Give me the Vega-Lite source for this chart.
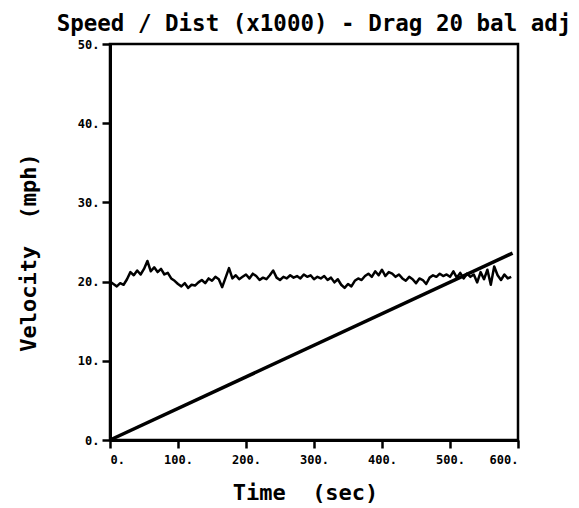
{
  "$schema": "https://vega.github.io/schema/vega-lite/v6.json",
  "autosize": "none",
  "width": 408,
  "height": 396,
  "padding": {"left": 110, "top": 44, "right": 61, "bottom": 68},
  "background": "white",
  "title": {
    "text": "Speed / Dist (x1000) - Drag 20 bal adj",
    "font": "DejaVu Sans Mono",
    "fontWeight": "bold",
    "fontSize": 22.5,
    "color": "black",
    "anchor": "middle",
    "offset": 3
  },
  "config": {
    "view": {"stroke": "black", "strokeWidth": 2.5},
    "axis": {
      "domainColor": "black",
      "domainWidth": 3,
      "tickColor": "black",
      "tickWidth": 2.5,
      "tickSize": 8,
      "grid": false,
      "labelFont": "DejaVu Sans Mono",
      "labelFontWeight": "bold",
      "labelFontSize": 12,
      "labelColor": "black",
      "titleFont": "DejaVu Sans Mono",
      "titleFontWeight": "bold",
      "titleFontSize": 22,
      "titleColor": "black"
    }
  },
  "datasets": {
    "speed": [
      {"t": 0, "v": 20.0}, {"t": 5, "v": 19.7}, {"t": 10, "v": 19.4}, {"t": 15, "v": 19.8},
      {"t": 20, "v": 19.6}, {"t": 25, "v": 20.3}, {"t": 30, "v": 21.2}, {"t": 35, "v": 20.8},
      {"t": 40, "v": 21.4}, {"t": 45, "v": 20.9}, {"t": 50, "v": 21.6}, {"t": 55, "v": 22.6},
      {"t": 60, "v": 21.3}, {"t": 65, "v": 21.8}, {"t": 70, "v": 21.2}, {"t": 75, "v": 21.6},
      {"t": 80, "v": 20.9}, {"t": 85, "v": 21.1}, {"t": 90, "v": 20.4}, {"t": 95, "v": 20.1},
      {"t": 100, "v": 19.7}, {"t": 105, "v": 19.4}, {"t": 110, "v": 19.8}, {"t": 115, "v": 19.2},
      {"t": 120, "v": 19.6}, {"t": 125, "v": 19.5}, {"t": 130, "v": 19.9}, {"t": 135, "v": 20.2},
      {"t": 140, "v": 19.8}, {"t": 145, "v": 20.4}, {"t": 150, "v": 20.1}, {"t": 155, "v": 20.6},
      {"t": 160, "v": 20.3}, {"t": 165, "v": 19.3}, {"t": 170, "v": 20.5}, {"t": 175, "v": 21.7},
      {"t": 180, "v": 20.4}, {"t": 185, "v": 20.8}, {"t": 190, "v": 20.3}, {"t": 195, "v": 20.6},
      {"t": 200, "v": 20.9}, {"t": 205, "v": 20.4}, {"t": 210, "v": 21.0}, {"t": 215, "v": 20.7},
      {"t": 220, "v": 20.2}, {"t": 225, "v": 20.5}, {"t": 230, "v": 20.3}, {"t": 235, "v": 20.8},
      {"t": 240, "v": 21.4}, {"t": 245, "v": 20.5}, {"t": 250, "v": 20.2}, {"t": 255, "v": 20.6},
      {"t": 260, "v": 20.4}, {"t": 265, "v": 20.8}, {"t": 270, "v": 20.5}, {"t": 275, "v": 20.7},
      {"t": 280, "v": 20.4}, {"t": 285, "v": 20.9}, {"t": 290, "v": 20.6}, {"t": 295, "v": 20.8},
      {"t": 300, "v": 20.3}, {"t": 305, "v": 20.6}, {"t": 310, "v": 20.4}, {"t": 315, "v": 20.7},
      {"t": 320, "v": 20.2}, {"t": 325, "v": 20.5}, {"t": 330, "v": 19.9}, {"t": 335, "v": 20.3},
      {"t": 340, "v": 19.6}, {"t": 345, "v": 19.2}, {"t": 350, "v": 19.7}, {"t": 355, "v": 19.4},
      {"t": 360, "v": 20.1}, {"t": 365, "v": 20.4}, {"t": 370, "v": 20.2}, {"t": 375, "v": 20.7},
      {"t": 380, "v": 21.0}, {"t": 385, "v": 20.6}, {"t": 390, "v": 21.3}, {"t": 395, "v": 20.8},
      {"t": 400, "v": 21.5}, {"t": 405, "v": 20.7}, {"t": 410, "v": 21.2}, {"t": 415, "v": 21.0},
      {"t": 420, "v": 20.6}, {"t": 425, "v": 20.9}, {"t": 430, "v": 20.4}, {"t": 435, "v": 20.1},
      {"t": 440, "v": 20.6}, {"t": 445, "v": 20.3}, {"t": 450, "v": 19.8}, {"t": 455, "v": 20.4},
      {"t": 460, "v": 20.2}, {"t": 465, "v": 19.7}, {"t": 470, "v": 20.5}, {"t": 475, "v": 20.8},
      {"t": 480, "v": 20.6}, {"t": 485, "v": 21.0}, {"t": 490, "v": 20.7}, {"t": 495, "v": 20.9},
      {"t": 500, "v": 20.6}, {"t": 505, "v": 21.3}, {"t": 510, "v": 20.5}, {"t": 515, "v": 21.1},
      {"t": 520, "v": 20.4}, {"t": 525, "v": 21.0}, {"t": 530, "v": 20.6}, {"t": 535, "v": 20.9},
      {"t": 540, "v": 19.9}, {"t": 545, "v": 21.2}, {"t": 550, "v": 20.3}, {"t": 555, "v": 21.5},
      {"t": 560, "v": 19.6}, {"t": 565, "v": 21.9}, {"t": 570, "v": 20.8}, {"t": 575, "v": 20.2},
      {"t": 580, "v": 20.9}, {"t": 585, "v": 20.4}, {"t": 590, "v": 20.6}
    ],
    "dist": [
      {"t": 0, "v": 0},
      {"t": 592, "v": 23.6}
    ]
  },
  "layer": [
    {
      "data": {"name": "speed"},
      "mark": {"type": "line", "color": "black", "strokeWidth": 2.5, "strokeJoin": "round"},
      "encoding": {
        "x": {
          "field": "t", "type": "quantitative",
          "scale": {"domain": [0, 600], "nice": false},
          "axis": {
            "values": [0, 100, 200, 300, 400, 500, 600],
            "labelExpr": "datum.value + '.'",
            "labelPadding": 6,
            "title": "Time\u00a0\u00a0(sec)",
            "titleX": 195,
            "titleY": 52,
            "titleBaseline": "middle",
            "titleAlign": "center"
          }
        },
        "y": {
          "field": "v", "type": "quantitative",
          "scale": {"domain": [0, 50], "nice": false},
          "axis": {
            "values": [0, 10, 20, 30, 40, 50],
            "labelExpr": "datum.value + '.'",
            "labelPadding": 3,
            "title": "Velocity\u00a0\u00a0(mph)",
            "titleX": -82,
            "titleY": 208,
            "titleAngle": -90,
            "titleBaseline": "middle",
            "titleAlign": "center"
          }
        }
      }
    },
    {
      "data": {"name": "dist"},
      "mark": {"type": "line", "color": "black", "strokeWidth": 3.5},
      "encoding": {
        "x": {"field": "t", "type": "quantitative"},
        "y": {"field": "v", "type": "quantitative"}
      }
    }
  ]
}
